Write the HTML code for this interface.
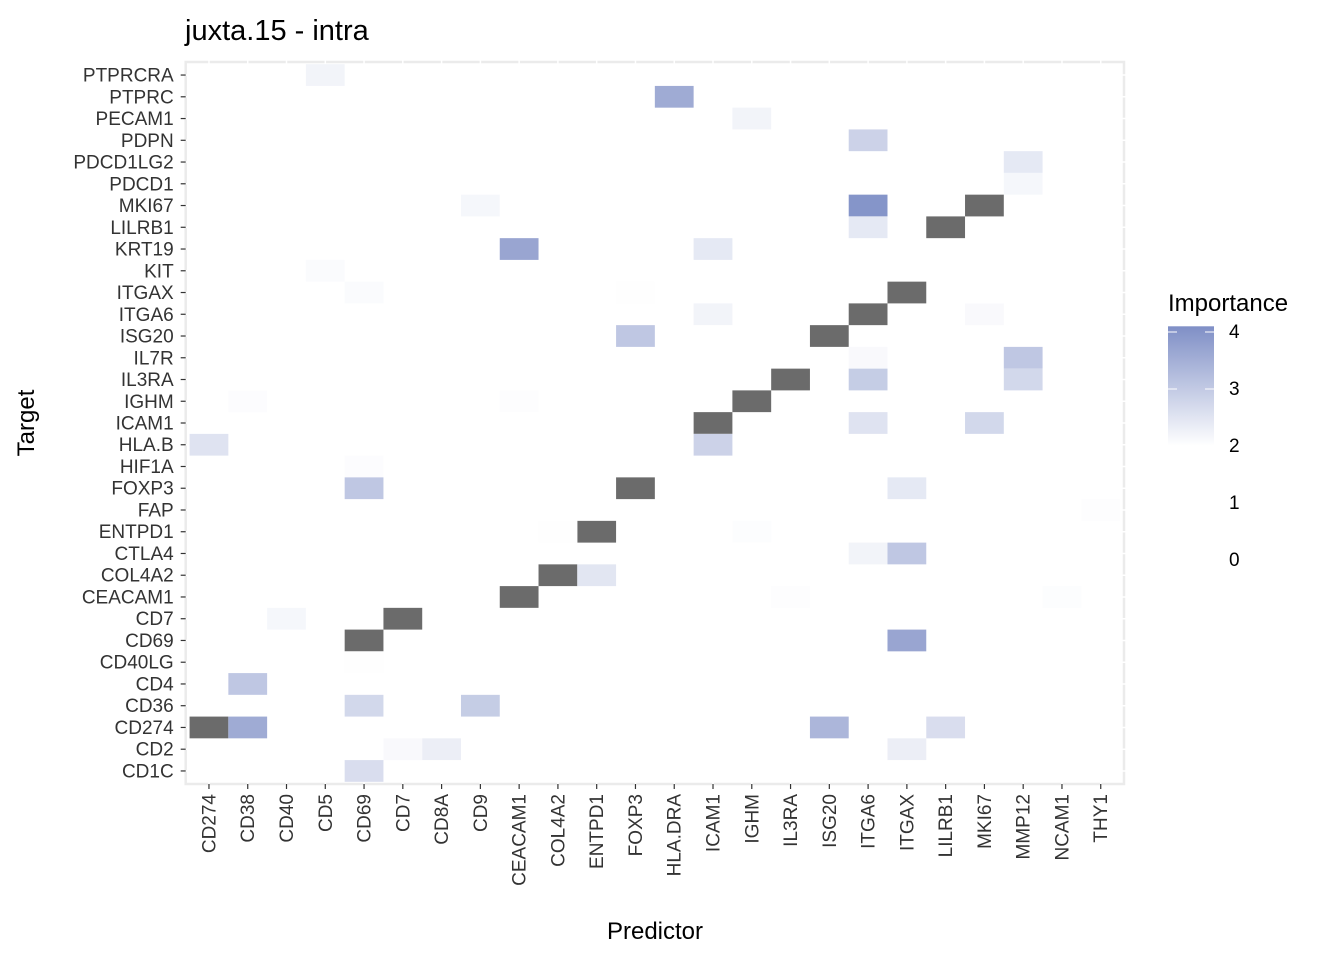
<!DOCTYPE html>
<html><head><meta charset="utf-8"><style>
body{margin:0;background:#fff;font-family:"Liberation Sans",sans-serif;}
svg{display:block}
</style></head><body>
<svg id="c" width="1344" height="960" xmlns="http://www.w3.org/2000/svg"></svg>
<script>
const predictors=["CD274","CD38","CD40","CD5","CD69","CD7","CD8A","CD9","CEACAM1","COL4A2","ENTPD1","FOXP3","HLA.DRA","ICAM1","IGHM","IL3RA","ISG20","ITGA6","ITGAX","LILRB1","MKI67","MMP12","NCAM1","THY1"];
const targets=["PTPRCRA","PTPRC","PECAM1","PDPN","PDCD1LG2","PDCD1","MKI67","LILRB1","KRT19","KIT","ITGAX","ITGA6","ISG20","IL7R","IL3RA","IGHM","ICAM1","HLA.B","HIF1A","FOXP3","FAP","ENTPD1","CTLA4","COL4A2","CEACAM1","CD7","CD69","CD40LG","CD4","CD36","CD274","CD2","CD1C"];
const cellPred=["CD5","HLA.DRA","IGHM","ITGA6","MMP12","MMP12","CD9","ITGA6","MKI67","ITGA6","LILRB1","CEACAM1","ICAM1","CD5","CD69","FOXP3","ITGAX","ICAM1","ITGA6","MKI67","FOXP3","ISG20","ITGA6","MMP12","IL3RA","ITGA6","MMP12","CD38","CEACAM1","IGHM","ICAM1","ITGA6","MKI67","CD274","ICAM1","CD69","CD69","FOXP3","ITGAX","THY1","ENTPD1","COL4A2","IGHM","ITGA6","ITGAX","COL4A2","ENTPD1","CEACAM1","IL3RA","NCAM1","CD40","CD7","CD69","ITGAX","CD69","CD38","CD69","CD9","CD274","CD38","ISG20","LILRB1","CD7","CD8A","ITGAX","CD69"];
const cellTarget=["PTPRCRA","PTPRC","PECAM1","PDPN","PDCD1LG2","PDCD1","MKI67","MKI67","MKI67","LILRB1","LILRB1","KRT19","KRT19","KIT","ITGAX","ITGAX","ITGAX","ITGA6","ITGA6","ITGA6","ISG20","ISG20","IL7R","IL7R","IL3RA","IL3RA","IL3RA","IGHM","IGHM","IGHM","ICAM1","ICAM1","ICAM1","HLA.B","HLA.B","HIF1A","FOXP3","FOXP3","FOXP3","FAP","ENTPD1","ENTPD1","ENTPD1","CTLA4","CTLA4","COL4A2","COL4A2","CEACAM1","CEACAM1","CEACAM1","CD7","CD7","CD69","CD69","CD40LG","CD4","CD36","CD36","CD274","CD274","CD274","CD274","CD2","CD2","CD2","CD1C"];
const cellValue=[2.2,3.5,2.2,2.8,2.4,2.15,2.15,3.9,null,2.4,null,3.6,2.4,2.08,2.08,2.02,null,2.2,null,2.1,3.0,null,2.1,3.0,null,2.9,2.7,2.05,2.03,null,null,2.5,2.7,2.5,2.8,2.05,3.0,null,2.4,2.03,null,2.02,2.04,2.2,3.0,null,2.45,null,2.03,2.04,2.15,null,null,3.6,2.02,3.0,2.7,2.9,null,3.5,3.3,2.6,2.1,2.3,2.3,2.6];
const legendTicks=[4,3,2,1,0];

const svg=document.getElementById('c');const NS="http://www.w3.org/2000/svg";
function el(t,a,p){const e=document.createElementNS(NS,t);for(const k in a)e.setAttribute(k,a[k]);(p||svg).appendChild(e);return e;}
const L=185.7,R=1124,T=62,B=784;
const cw=(R-L)/(predictors.length-1+1.2), rh=(B-T)/(targets.length-1+1.2);
const xS=p=>L+cw*(0.6+predictors.indexOf(p));
const yS=t=>T+rh*(0.6+targets.indexOf(t));
function col(v){if(v===null)return"#6b6b6b";let f=Math.max(0,Math.min(1,(v-2)/2));const c0=[255,255,255],c1=[127,143,198];return"rgb("+c0.map((c,i)=>Math.round(c+(c1[i]-c)*f)).join(",")+")";}
const bg=el('rect',{x:L,y:T,width:R-L,height:B-T,fill:'#fff',stroke:'#ebebeb','stroke-width':2.5});

predictors.forEach(p=>{const l=el('line',{x1:xS(p),x2:xS(p),y1:T-2,y2:B+2,stroke:'#fff','stroke-width':1.5});});
targets.forEach(t=>{const l=el('line',{x1:L-2,x2:R+2,y1:yS(t),y2:yS(t),stroke:'#fff','stroke-width':1.5});});
cellValue.forEach((v,i)=>{const r=el('rect',{x:xS(cellPred[i])-cw/2,y:yS(cellTarget[i])-rh/2,width:cw,height:rh,fill:col(v)});

});
targets.forEach(t=>{const y=yS(t);el('line',{x1:L-5,x2:L,y1:y,y2:y,stroke:'#333','stroke-width':1.2});
const tx=el('text',{x:L-12,y:y+6.5,'text-anchor':'end','font-size':19,fill:'#333'});tx.textContent=t;
});
predictors.forEach(p=>{const x=xS(p);el('line',{x1:x,x2:x,y1:B,y2:B+5,stroke:'#333','stroke-width':1.2});
const tx=el('text',{x:0,y:0,'text-anchor':'end','font-size':19,fill:'#333',transform:`translate(${x+6.5},${B+10}) rotate(-90)`});tx.textContent=p;
});
let t=el('text',{x:655,y:939,'text-anchor':'middle','font-size':24,fill:'#000'});t.textContent='Predictor';
t=el('text',{x:0,y:0,'text-anchor':'middle','font-size':24,fill:'#000',transform:'translate(34,423) rotate(-90)'});t.textContent='Target';
t=el('text',{x:185,y:40,'font-size':29,fill:'#000'});t.textContent='juxta.15 - intra';
t=el('text',{x:1168,y:311,'font-size':24,fill:'#000'});t.textContent='Importance';
const lY=v=>446-(v-2)*57;
const defs=el('defs',{});const g=el('linearGradient',{id:'lg',x1:0,y1:1,x2:0,y2:0},defs);
el('stop',{offset:0,'stop-color':col(2)},g);el('stop',{offset:1,'stop-color':col(4)},g);
const bar=el('rect',{x:1168,y:lY(4.1),width:46,height:lY(2)-lY(4.1),fill:'url(#lg)'});
legendTicks.forEach(v=>{const y=lY(v);if(v>=2){el('line',{x1:1168,x2:1177,y1:y,y2:y,stroke:'#fff'});el('line',{x1:1205,x2:1214,y1:y,y2:y,stroke:'#fff'});}
const tx=el('text',{x:1229,y:y+6,'font-size':19,fill:'#000'});tx.textContent=v;});
</script>
</body></html>
